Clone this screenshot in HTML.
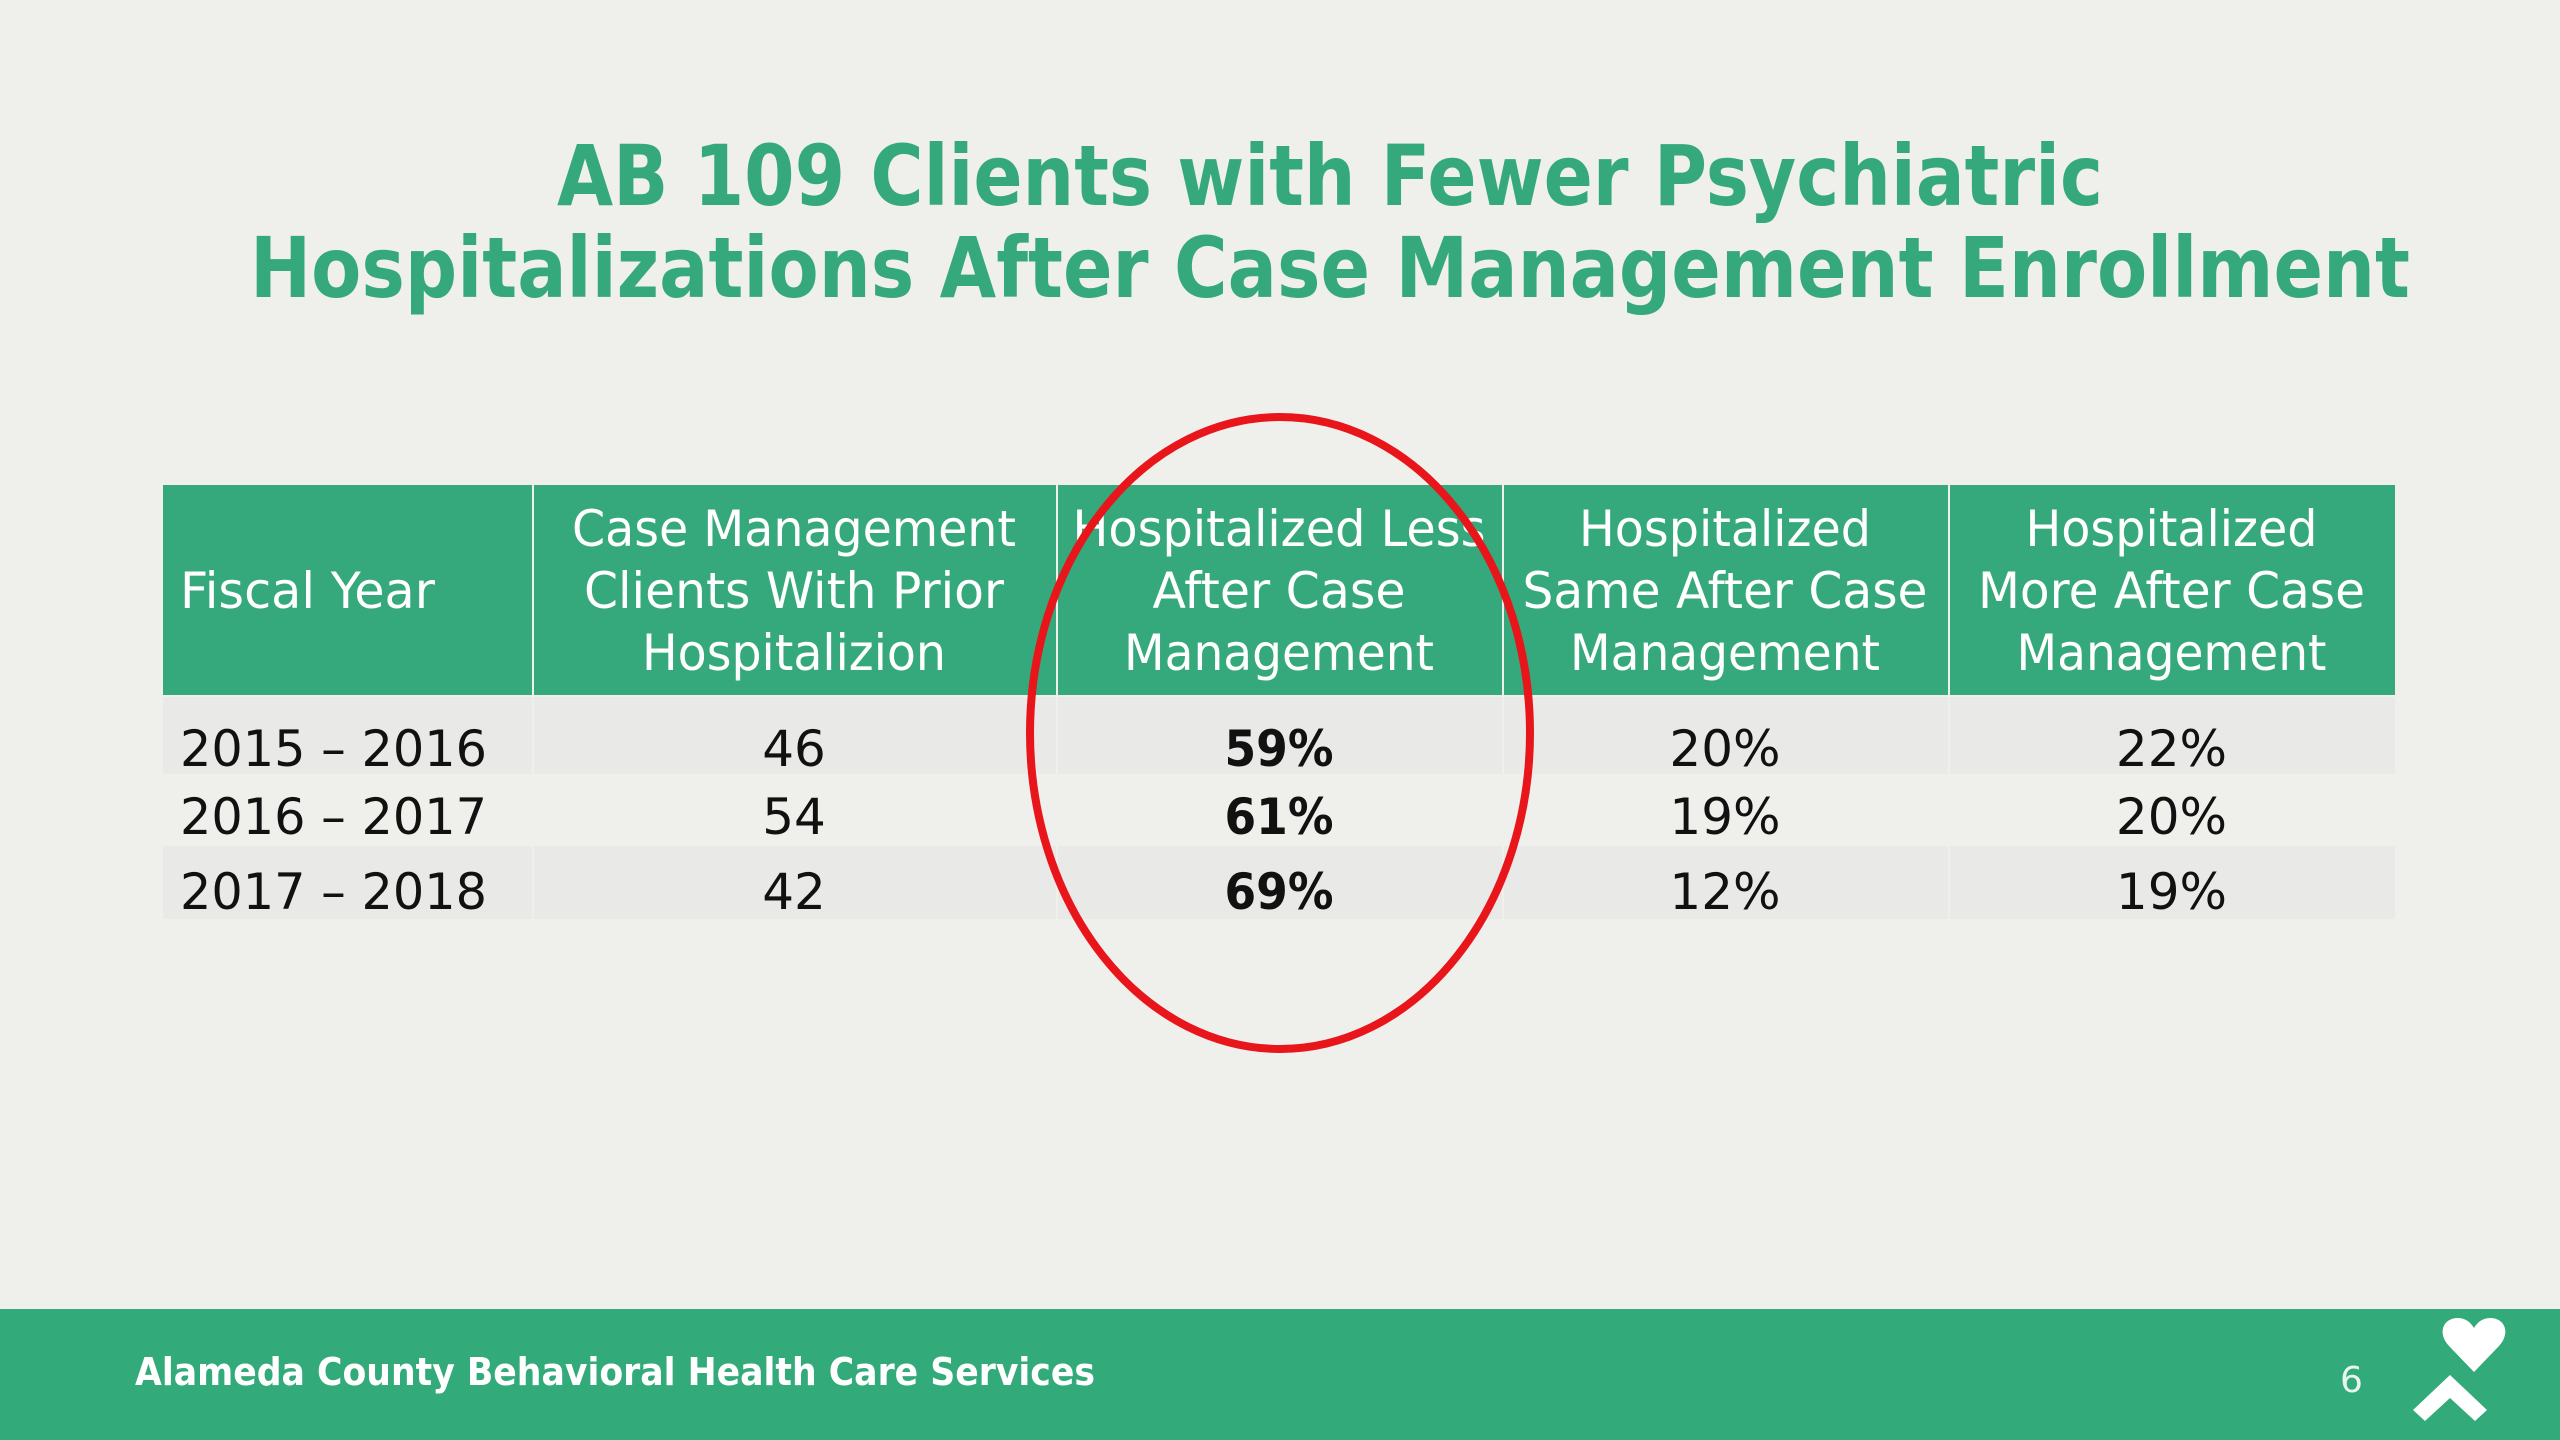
<!DOCTYPE html>
<html><head><meta charset="utf-8"><style>
html,body{margin:0;padding:0;background:#efefec;}
svg{display:block;font-family:"DejaVu Sans","Liberation Sans",sans-serif;}
</style></head><body>
<svg id="slide" width="2560" height="1440" viewBox="0 0 2560 1440">
<rect x="0" y="0" width="2560" height="1440" fill="#efefec"/>
<g fill="#35a97c" font-size="84" font-weight="bold">
<text x="557" y="205" textLength="1546" lengthAdjust="spacingAndGlyphs">AB 109 Clients with Fewer Psychiatric</text>
<text x="250" y="297" textLength="2160" lengthAdjust="spacingAndGlyphs">Hospitalizations After Case Management Enrollment</text>
</g>
<g id="table"></g>
<ellipse cx="1280" cy="733" rx="250" ry="316" fill="none" stroke="#e8151b" stroke-width="8"/>
<rect x="0" y="1309" width="2560" height="131" fill="#33aa7a"/>
<text x="135" y="1385" fill="#ffffff" font-size="38" font-weight="bold" textLength="960" lengthAdjust="spacingAndGlyphs">Alameda County Behavioral Health Care Services</text>
<text x="2340" y="1392" fill="#e8f5ee" font-size="36">6</text>
<g fill="#ffffff">
<path d="M2474 1372 L2449 1346 C2437 1333 2443 1318 2458 1318 C2466 1318 2471 1323 2474 1328 C2477 1323 2482 1318 2490 1318 C2505 1318 2511 1333 2499 1346 Z"/>
<path d="M2413 1410 L2450 1375 L2487 1410 L2475 1421 L2450 1398 L2425 1421 Z"/>
</g>
</svg>
<script>
const headers = [["Fiscal Year"],["Case Management","Clients With Prior","Hospitalizion"],["Hospitalized Less","After Case","Management"],["Hospitalized","Same After Case","Management"],["Hospitalized","More After Case","Management"]];
const headerWidths = [[255],[444,420,304],[413,253,310],[292,405,310],[292,387,310]];
const years = ["2015 – 2016","2016 – 2017","2017 – 2018"];
const clients = ["46","54","42"];
const lessPct = ["59%","61%","69%"];
const samePct = ["20%","19%","12%"];
const morePct = ["22%","20%","19%"];

const NS="http://www.w3.org/2000/svg";
const g=document.getElementById('table');
const colX=[163,532,1056,1502,1948,2395];
const headTop=485, headBot=695;
const rowTops=[697,777,846], rowBots=[774,843,919];
const rowBase=[766,834,909];
function mk(tag,attrs){const e=document.createElementNS(NS,tag);for(const k in attrs)e.setAttribute(k,attrs[k]);return e;}
for(let c=0;c<5;c++){
  const r=mk('rect',{x:colX[c]+(c?2:0),y:headTop,width:colX[c+1]-colX[c]-(c?2:0),height:headBot-headTop,fill:'#35a97c'});
  
  
  g.appendChild(r);
  const lines=headers[c];
  const n=lines.length;
  const mid=(headTop+headBot)/2;
  lines.forEach((ln,i)=>{
    const y=mid+(i-(n-1)/2)*62+18;
    const cx=c===0?180:(colX[c]+colX[c+1])/2;
    const t=mk('text',{x:cx,y:y,fill:'#ffffff','font-size':50,'text-anchor':c===0?'start':'middle',textLength:headerWidths[c][i],lengthAdjust:'spacingAndGlyphs'});
    t.textContent=ln;
    
    
    g.appendChild(t);
  });
}
const cols=[years,clients,lessPct,samePct,morePct];
for(let r=0;r<years.length;r++){
  for(let c=0;c<5;c++){
    const rc=mk('rect',{x:colX[c]+(c?2:0),y:rowTops[r],width:colX[c+1]-colX[c]-(c?2:0),height:rowBots[r]-rowTops[r],fill:r===1?'#efefec':'#e9e9e7'});
    
    
    g.appendChild(rc);
    const cx=c===0?180:(colX[c]+colX[c+1])/2;
    const t=mk('text',{x:cx,y:rowBase[r],fill:'#111111','font-size':50,'text-anchor':c===0?'start':'middle','font-weight':c===2?'bold':'normal'});
    if(c===0){t.setAttribute('textLength',307);t.setAttribute('lengthAdjust','spacingAndGlyphs');}
    if(c===2){t.setAttribute('textLength',109);t.setAttribute('lengthAdjust','spacingAndGlyphs');}
    t.textContent=cols[c][r];
    
    
    g.appendChild(t);
  }
}
</script>
</body></html>
